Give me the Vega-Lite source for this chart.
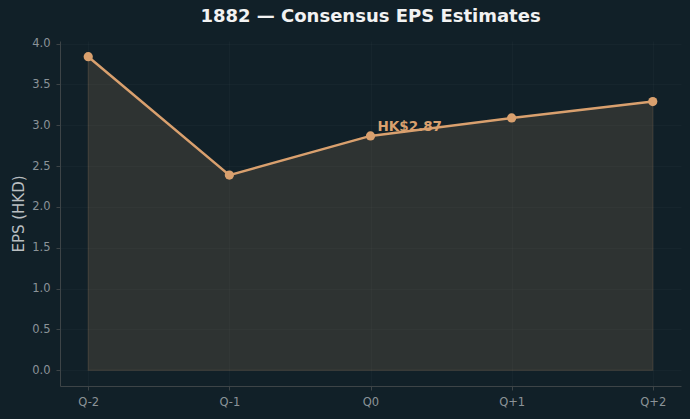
{
  "$schema": "https://vega.github.io/schema/vega-lite/v6.json",
  "autosize": "none",
  "width": 621,
  "height": 345,
  "padding": {"left": 60, "top": 41, "right": 9, "bottom": 33},
  "background": "#112028",
  "title": {
    "text": "1882 — Consensus EPS Estimates",
    "font": "DejaVu Sans",
    "fontSize": 18,
    "fontWeight": "bold",
    "color": "#f2f2f2",
    "anchor": "middle",
    "offset": 12
  },
  "config": {
    "view": {"stroke": null},
    "font": "DejaVu Sans",
    "axis": {
      "labelFont": "DejaVu Sans",
      "labelFontSize": 11.5,
      "labelColor": "#8b9398",
      "domainColor": "#3d4447",
      "tickColor": "#3d4447",
      "tickSize": 4,
      "gridColor": "#ffffff",
      "gridOpacity": 0.025,
      "titleFont": "DejaVu Sans",
      "titleFontWeight": "normal",
      "titleColor": "#b9bec1"
    }
  },
  "data": {
    "values": [
      {"q": "Q-2", "eps": 3.84},
      {"q": "Q-1", "eps": 2.39},
      {"q": "Q0", "eps": 2.87, "label": "HK$2.87"},
      {"q": "Q+1", "eps": 3.09},
      {"q": "Q+2", "eps": 3.29}
    ]
  },
  "encoding": {
    "x": {
      "field": "q",
      "type": "ordinal",
      "sort": ["Q-2", "Q-1", "Q0", "Q+1", "Q+2"],
      "scale": {"type": "point", "padding": 0.2},
      "axis": {"title": null, "labelAngle": 0, "grid": true, "labelPadding": 6}
    },
    "y": {
      "field": "eps",
      "type": "quantitative",
      "scale": {"domain": [-0.192, 4.032], "nice": false, "zero": false},
      "axis": {
        "title": "EPS (HKD)",
        "titleFontSize": 15,
        "titlePadding": 5,
        "values": [0, 0.5, 1, 1.5, 2, 2.5, 3, 3.5, 4],
        "format": ".1f",
        "grid": true,
        "labelPadding": 6
      }
    }
  },
  "layer": [
    {
      "mark": {"type": "area", "color": "#d9a06e", "fillOpacity": 0.15, "stroke": "#d9a06e", "strokeOpacity": 0.15, "strokeWidth": 1.2},
      "encoding": {"y2": {"datum": 0}}
    },
    {
      "mark": {"type": "line", "color": "#d9a06e", "strokeWidth": 2.5}
    },
    {
      "mark": {"type": "point", "filled": true, "color": "#d9a06e", "size": 85, "opacity": 1}
    },
    {
      "transform": [{"filter": "datum.label != null"}],
      "mark": {"type": "text", "color": "#d9a06e", "fontWeight": "bold", "fontSize": 13.5, "align": "left", "baseline": "alphabetic", "dx": 7, "dy": -5},
      "encoding": {"text": {"field": "label"}}
    }
  ]
}
